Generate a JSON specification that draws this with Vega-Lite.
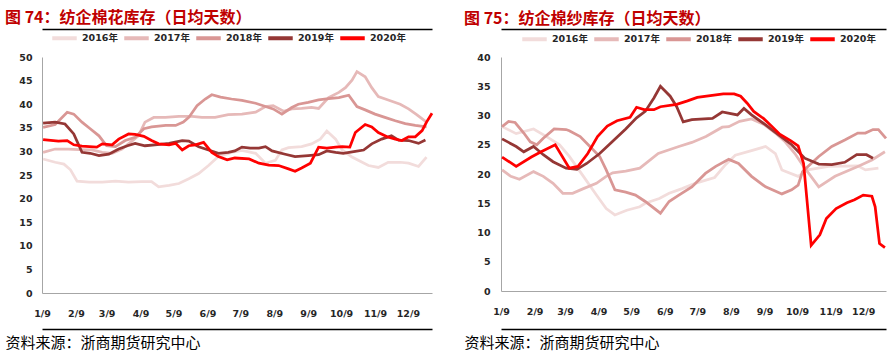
{
 "$schema": "https://vega.github.io/schema/vega-lite/v6.json",
 "background": "white",
 "padding": {"left": 5, "top": 9, "right": 2, "bottom": 5},
 "config": {
  "view": {"stroke": null},
  "axis": {"labelFont": "DejaVu Sans", "labelFontSize": 9.5, "labelFontWeight": "bold", "labelColor": "#262626", "domainColor": "#a6a6a6", "domainWidth": 1, "ticks": false, "tickSize": 0, "grid": false, "labelOverlap": false, "labelFlush": false, "tickCount": 30},
  "title": {"font": "Noto Sans CJK SC", "fontSize": 16, "fontWeight": "bold", "color": "#c00000", "anchor": "start", "offset": -2},
  "legend": {"orient": "none", "direction": "horizontal", "title": null, "symbolType": "stroke", "symbolStrokeWidth": 4, "symbolSize": 600, "labelFont": "DejaVu Sans, Noto Sans CJK SC", "labelFontSize": 9.5, "labelFontWeight": "bold", "labelColor": "#262626", "columnPadding": -2, "labelOffset": 3}
 },
 "datasets": {
  "cotton": [
   {"s":"2016年","d":10,"v":28.4},{"s":"2016年","d":21,"v":27.7},{"s":"2016年","d":29,"v":27.3},{"s":"2016年","d":35,"v":26.1},{"s":"2016年","d":41,"v":23.7},{"s":"2016年","d":52,"v":23.5},{"s":"2016年","d":64,"v":23.5},{"s":"2016年","d":76,"v":23.7},{"s":"2016年","d":88,"v":23.5},{"s":"2016年","d":100,"v":23.6},{"s":"2016年","d":109,"v":23.6},{"s":"2016年","d":115.5,"v":22.5},{"s":"2016年","d":125,"v":22.8},{"s":"2016年","d":134,"v":23.2},{"s":"2016年","d":143,"v":24.2},{"s":"2016年","d":152,"v":25.3},{"s":"2016年","d":161,"v":27.0},{"s":"2016年","d":170,"v":28.9},{"s":"2016年","d":182,"v":29.8},{"s":"2016年","d":191.5,"v":30.2},{"s":"2016年","d":204,"v":29.6},{"s":"2016年","d":213,"v":27.5},{"s":"2016年","d":222,"v":28.1},{"s":"2016年","d":228,"v":30.3},{"s":"2016年","d":234,"v":30.8},{"s":"2016年","d":246,"v":31.0},{"s":"2016年","d":255,"v":31.6},{"s":"2016年","d":263,"v":32.6},{"s":"2016年","d":269,"v":34.3},{"s":"2016年","d":277,"v":32.6},{"s":"2016年","d":283,"v":30.3},{"s":"2016年","d":292,"v":28.8},{"s":"2016年","d":299.5,"v":27.9},{"s":"2016年","d":307,"v":27.0},{"s":"2016年","d":316,"v":26.6},{"s":"2016年","d":325,"v":27.7},{"s":"2016年","d":336,"v":27.7},{"s":"2016年","d":343.6,"v":27.5},{"s":"2016年","d":352.7,"v":26.8},{"s":"2016年","d":360,"v":28.8},
   {"s":"2017年","d":10,"v":29.8},{"s":"2017年","d":21,"v":30.5},{"s":"2017年","d":33,"v":30.5},{"s":"2017年","d":42.5,"v":30.4},{"s":"2017年","d":54.6,"v":30.3},{"s":"2017年","d":64,"v":29.8},{"s":"2017年","d":73,"v":29.6},{"s":"2017年","d":82,"v":30.5},{"s":"2017年","d":89.6,"v":31.9},{"s":"2017年","d":97,"v":33.3},{"s":"2017年","d":103,"v":36.2},{"s":"2017年","d":111,"v":37.2},{"s":"2017年","d":121.6,"v":37.2},{"s":"2017年","d":134,"v":37.4},{"s":"2017年","d":146,"v":37.4},{"s":"2017年","d":155,"v":37.2},{"s":"2017年","d":167,"v":37.2},{"s":"2017年","d":179,"v":37.8},{"s":"2017年","d":191.5,"v":37.9},{"s":"2017年","d":204,"v":38.3},{"s":"2017年","d":213,"v":39.5},{"s":"2017年","d":220,"v":39.7},{"s":"2017年","d":229.5,"v":38.5},{"s":"2017年","d":237,"v":39.0},{"s":"2017年","d":246,"v":39.1},{"s":"2017年","d":255,"v":39.3},{"s":"2017年","d":261.5,"v":39.1},{"s":"2017年","d":270.6,"v":41.4},{"s":"2017年","d":280,"v":42.5},{"s":"2017年","d":286,"v":43.5},{"s":"2017年","d":292,"v":45.1},{"s":"2017年","d":296.5,"v":46.9},{"s":"2017年","d":304,"v":45.8},{"s":"2017年","d":310,"v":43.5},{"s":"2017年","d":316,"v":41.6},{"s":"2017年","d":325,"v":40.9},{"s":"2017年","d":336,"v":40.0},{"s":"2017年","d":343.6,"v":39.0},{"s":"2017年","d":351,"v":37.8},{"s":"2017年","d":360,"v":36.2},
   {"s":"2018年","d":10,"v":35.1},{"s":"2018年","d":21,"v":35.7},{"s":"2018年","d":32,"v":38.3},{"s":"2018年","d":38,"v":37.9},{"s":"2018年","d":45.5,"v":36.2},{"s":"2018年","d":53,"v":34.8},{"s":"2018年","d":61,"v":33.3},{"s":"2018年","d":68,"v":31.2},{"s":"2018年","d":76,"v":31.0},{"s":"2018年","d":85,"v":32.3},{"s":"2018年","d":94,"v":33.0},{"s":"2018年","d":102,"v":34.8},{"s":"2018年","d":109,"v":35.2},{"s":"2018年","d":122,"v":35.5},{"s":"2018年","d":131,"v":35.5},{"s":"2018年","d":138,"v":36.2},{"s":"2018年","d":143,"v":37.2},{"s":"2018年","d":150.5,"v":39.7},{"s":"2018年","d":158,"v":41.1},{"s":"2018年","d":164,"v":42.0},{"s":"2018年","d":172,"v":41.5},{"s":"2018年","d":182,"v":41.1},{"s":"2018年","d":191.5,"v":40.8},{"s":"2018年","d":204,"v":40.2},{"s":"2018年","d":213,"v":39.5},{"s":"2018年","d":220,"v":39.0},{"s":"2018年","d":228,"v":37.9},{"s":"2018年","d":237,"v":39.3},{"s":"2018年","d":243,"v":40.0},{"s":"2018年","d":252,"v":40.4},{"s":"2018年","d":261.5,"v":40.9},{"s":"2018年","d":270.6,"v":41.2},{"s":"2018年","d":280,"v":41.4},{"s":"2018年","d":289,"v":41.9},{"s":"2018年","d":296.5,"v":39.5},{"s":"2018年","d":304,"v":38.8},{"s":"2018年","d":313,"v":37.9},{"s":"2018年","d":322,"v":37.2},{"s":"2018年","d":331.5,"v":36.5},{"s":"2018年","d":340.6,"v":35.9},{"s":"2018年","d":349.7,"v":35.5},{"s":"2018年","d":360,"v":35.2},
   {"s":"2019年","d":10,"v":36.0},{"s":"2019年","d":21,"v":36.2},{"s":"2019年","d":30,"v":35.8},{"s":"2019年","d":38,"v":33.7},{"s":"2019年","d":45.5,"v":29.8},{"s":"2019年","d":53,"v":29.6},{"s":"2019年","d":61,"v":29.1},{"s":"2019年","d":70,"v":29.4},{"s":"2019年","d":79,"v":30.5},{"s":"2019年","d":87,"v":31.2},{"s":"2019年","d":94,"v":31.7},{"s":"2019年","d":103,"v":31.2},{"s":"2019年","d":112,"v":31.4},{"s":"2019年","d":125,"v":31.7},{"s":"2019年","d":137,"v":32.3},{"s":"2019年","d":143,"v":32.2},{"s":"2019年","d":152,"v":31.0},{"s":"2019年","d":161,"v":30.3},{"s":"2019年","d":170,"v":29.6},{"s":"2019年","d":179,"v":29.8},{"s":"2019年","d":185,"v":30.1},{"s":"2019年","d":191.5,"v":30.9},{"s":"2019年","d":199,"v":30.7},{"s":"2019年","d":207,"v":30.7},{"s":"2019年","d":213,"v":31.0},{"s":"2019年","d":219,"v":30.1},{"s":"2019年","d":231,"v":29.4},{"s":"2019年","d":240,"v":28.9},{"s":"2019年","d":252,"v":29.1},{"s":"2019年","d":261.5,"v":29.3},{"s":"2019年","d":269,"v":30.1},{"s":"2019年","d":277,"v":29.8},{"s":"2019年","d":284,"v":29.6},{"s":"2019年","d":295,"v":30.0},{"s":"2019年","d":302.6,"v":30.3},{"s":"2019年","d":310,"v":31.6},{"s":"2019年","d":319,"v":32.6},{"s":"2019年","d":328,"v":33.3},{"s":"2019年","d":334.5,"v":32.4},{"s":"2019年","d":343.6,"v":32.3},{"s":"2019年","d":352.7,"v":31.7},{"s":"2019年","d":359,"v":32.4},
   {"s":"2020年","d":10,"v":32.5},{"s":"2020年","d":24,"v":32.2},{"s":"2020年","d":32,"v":32.3},{"s":"2020年","d":38,"v":31.4},{"s":"2020年","d":45.5,"v":31.1},{"s":"2020年","d":59,"v":30.9},{"s":"2020年","d":64,"v":31.6},{"s":"2020年","d":73,"v":31.4},{"s":"2020年","d":79,"v":32.6},{"s":"2020年","d":88,"v":33.7},{"s":"2020年","d":94,"v":33.6},{"s":"2020年","d":102,"v":33.2},{"s":"2020年","d":109,"v":32.3},{"s":"2020年","d":115.5,"v":31.6},{"s":"2020年","d":125,"v":31.4},{"s":"2020年","d":131,"v":31.7},{"s":"2020年","d":137,"v":30.3},{"s":"2020年","d":143,"v":31.2},{"s":"2020年","d":149,"v":31.4},{"s":"2020年","d":156.5,"v":31.9},{"s":"2020年","d":164,"v":29.8},{"s":"2020年","d":170,"v":28.9},{"s":"2020年","d":178,"v":28.2},{"s":"2020年","d":185,"v":28.6},{"s":"2020年","d":198,"v":28.4},{"s":"2020年","d":207,"v":27.5},{"s":"2020年","d":216,"v":27.1},{"s":"2020年","d":225,"v":27.0},{"s":"2020年","d":234,"v":26.3},{"s":"2020年","d":240,"v":25.8},{"s":"2020年","d":246,"v":26.5},{"s":"2020年","d":254,"v":27.5},{"s":"2020年","d":261.5,"v":30.9},{"s":"2020年","d":269,"v":30.7},{"s":"2020年","d":277,"v":30.9},{"s":"2020年","d":283,"v":31.0},{"s":"2020年","d":290,"v":30.9},{"s":"2020年","d":295,"v":34.0},{"s":"2020年","d":304,"v":35.7},{"s":"2020年","d":310,"v":35.2},{"s":"2020年","d":316,"v":34.0},{"s":"2020年","d":324,"v":33.1},{"s":"2020年","d":331.5,"v":32.6},{"s":"2020年","d":337.5,"v":32.3},{"s":"2020年","d":343.6,"v":33.1},{"s":"2020年","d":349.7,"v":33.1},{"s":"2020年","d":356,"v":34.4},{"s":"2020年","d":360,"v":36.2},{"s":"2020年","d":365,"v":38.1}
  ],
  "yarn": [
   {"s":"2016年","d":10,"v":28.1},{"s":"2016年","d":23,"v":26.9},{"s":"2016年","d":39,"v":27.7},{"s":"2016年","d":51,"v":26.4},{"s":"2016年","d":63,"v":25.0},{"s":"2016年","d":72,"v":23.0},{"s":"2016年","d":85,"v":19.6},{"s":"2016年","d":97,"v":16.4},{"s":"2016年","d":106,"v":14.1},{"s":"2016年","d":114,"v":13.0},{"s":"2016年","d":125,"v":13.8},{"s":"2016年","d":137,"v":14.4},{"s":"2016年","d":142,"v":15.0},{"s":"2016年","d":155,"v":15.8},{"s":"2016年","d":164,"v":16.7},{"s":"2016年","d":176,"v":17.5},{"s":"2016年","d":188,"v":18.4},{"s":"2016年","d":206,"v":19.4},{"s":"2016年","d":216,"v":21.6},{"s":"2016年","d":225,"v":23.2},{"s":"2016年","d":240,"v":24.0},{"s":"2016年","d":253,"v":24.7},{"s":"2016年","d":262,"v":23.5},{"s":"2016年","d":268,"v":20.7},{"s":"2016年","d":283,"v":19.6},{"s":"2016年","d":292,"v":20.7},{"s":"2016年","d":311,"v":21.3},{"s":"2016年","d":338,"v":21.4},{"s":"2016年","d":345,"v":20.7},{"s":"2016年","d":357,"v":21.0},
   {"s":"2017年","d":10,"v":20.7},{"s":"2017年","d":18,"v":19.6},{"s":"2017年","d":26,"v":19.1},{"s":"2017年","d":39,"v":20.4},{"s":"2017年","d":48,"v":19.6},{"s":"2017年","d":57,"v":18.4},{"s":"2017年","d":66,"v":16.7},{"s":"2017年","d":75,"v":16.7},{"s":"2017年","d":85,"v":17.5},{"s":"2017年","d":97,"v":18.4},{"s":"2017年","d":106,"v":19.6},{"s":"2017年","d":112,"v":20.2},{"s":"2017年","d":124,"v":20.5},{"s":"2017年","d":137,"v":21.0},{"s":"2017年","d":154,"v":23.5},{"s":"2017年","d":173,"v":24.7},{"s":"2017年","d":185,"v":25.4},{"s":"2017年","d":198,"v":26.4},{"s":"2017年","d":213,"v":28.0},{"s":"2017年","d":219,"v":28.1},{"s":"2017年","d":229,"v":29.0},{"s":"2017年","d":240,"v":29.4},{"s":"2017年","d":252,"v":28.4},{"s":"2017年","d":262,"v":27.0},{"s":"2017年","d":271,"v":25.5},{"s":"2017年","d":280,"v":23.5},{"s":"2017年","d":288,"v":21.3},{"s":"2017年","d":302,"v":17.8},{"s":"2017年","d":317,"v":19.6},{"s":"2017年","d":338,"v":21.3},{"s":"2017年","d":351,"v":22.4},{"s":"2017年","d":363,"v":23.8},
   {"s":"2018年","d":10,"v":28.1},{"s":"2018年","d":16,"v":29.0},{"s":"2018年","d":22,"v":28.8},{"s":"2018年","d":30,"v":27.0},{"s":"2018年","d":36,"v":25.5},{"s":"2018年","d":42,"v":25.0},{"s":"2018年","d":48,"v":26.1},{"s":"2018年","d":58,"v":27.7},{"s":"2018年","d":69,"v":27.6},{"s":"2018年","d":72,"v":27.4},{"s":"2018年","d":82,"v":26.4},{"s":"2018年","d":91,"v":24.7},{"s":"2018年","d":100,"v":23.0},{"s":"2018年","d":106,"v":20.7},{"s":"2018年","d":114,"v":17.3},{"s":"2018年","d":124,"v":16.9},{"s":"2018年","d":133,"v":16.4},{"s":"2018年","d":142,"v":15.3},{"s":"2018年","d":156,"v":13.3},{"s":"2018年","d":164,"v":15.3},{"s":"2018年","d":173,"v":16.4},{"s":"2018年","d":185,"v":17.8},{"s":"2018年","d":197.5,"v":20.1},{"s":"2018年","d":207,"v":21.3},{"s":"2018年","d":219,"v":22.5},{"s":"2018年","d":228,"v":21.8},{"s":"2018年","d":240,"v":19.6},{"s":"2018年","d":253,"v":17.8},{"s":"2018年","d":268,"v":16.6},{"s":"2018年","d":277,"v":17.3},{"s":"2018年","d":283,"v":18.1},{"s":"2018年","d":287,"v":20.4},{"s":"2018年","d":292,"v":21.3},{"s":"2018年","d":302,"v":23.0},{"s":"2018年","d":314,"v":24.7},{"s":"2018年","d":326,"v":25.8},{"s":"2018年","d":338,"v":27.0},{"s":"2018年","d":345,"v":27.0},{"s":"2018年","d":352,"v":27.6},{"s":"2018年","d":357,"v":27.6},{"s":"2018年","d":364,"v":26.1},
   {"s":"2019年","d":10,"v":26.0},{"s":"2019年","d":16,"v":25.4},{"s":"2019年","d":23,"v":24.7},{"s":"2019年","d":30,"v":23.8},{"s":"2019年","d":39,"v":24.7},{"s":"2019年","d":48,"v":23.3},{"s":"2019年","d":57,"v":22.1},{"s":"2019年","d":69,"v":21.0},{"s":"2019年","d":79,"v":20.8},{"s":"2019年","d":88,"v":21.8},{"s":"2019年","d":100,"v":23.5},{"s":"2019年","d":112,"v":25.6},{"s":"2019年","d":124,"v":27.7},{"s":"2019年","d":134,"v":29.6},{"s":"2019年","d":142,"v":30.7},{"s":"2019年","d":150,"v":33.0},{"s":"2019年","d":156,"v":35.0},{"s":"2019年","d":165,"v":33.3},{"s":"2019年","d":171,"v":31.5},{"s":"2019年","d":177,"v":28.9},{"s":"2019年","d":185,"v":29.3},{"s":"2019年","d":204,"v":29.5},{"s":"2019年","d":213,"v":30.6},{"s":"2019年","d":227,"v":30.1},{"s":"2019年","d":233,"v":31.2},{"s":"2019年","d":240,"v":30.1},{"s":"2019年","d":253,"v":28.4},{"s":"2019年","d":265,"v":26.7},{"s":"2019年","d":277,"v":25.0},{"s":"2019年","d":289,"v":22.7},{"s":"2019年","d":302,"v":21.7},{"s":"2019年","d":314,"v":21.6},{"s":"2019年","d":326,"v":22.0},{"s":"2019年","d":337,"v":23.3},{"s":"2019年","d":346,"v":23.3},{"s":"2019年","d":352,"v":22.7},
   {"s":"2020年","d":10,"v":22.9},{"s":"2020年","d":23,"v":21.3},{"s":"2020年","d":37,"v":22.9},{"s":"2020年","d":46,"v":23.8},{"s":"2020年","d":59,"v":25.0},{"s":"2020年","d":72,"v":21.0},{"s":"2020年","d":80,"v":21.3},{"s":"2020年","d":89,"v":23.5},{"s":"2020年","d":98,"v":26.4},{"s":"2020年","d":107,"v":28.2},{"s":"2020年","d":116,"v":29.1},{"s":"2020年","d":128,"v":29.7},{"s":"2020年","d":134,"v":31.4},{"s":"2020年","d":141,"v":31.0},{"s":"2020年","d":150,"v":31.0},{"s":"2020年","d":156,"v":31.5},{"s":"2020年","d":171,"v":31.9},{"s":"2020年","d":181,"v":32.5},{"s":"2020年","d":190,"v":33.1},{"s":"2020年","d":202,"v":33.4},{"s":"2020年","d":214,"v":33.7},{"s":"2020年","d":224,"v":33.7},{"s":"2020年","d":230,"v":33.3},{"s":"2020年","d":236,"v":32.1},{"s":"2020年","d":242,"v":30.7},{"s":"2020年","d":251,"v":29.5},{"s":"2020年","d":259,"v":28.1},{"s":"2020年","d":266,"v":26.8},{"s":"2020年","d":276,"v":25.7},{"s":"2020年","d":283,"v":24.8},{"s":"2020年","d":288,"v":21.8},{"s":"2020年","d":295,"v":7.8},{"s":"2020年","d":303,"v":9.6},{"s":"2020年","d":309,"v":12.4},{"s":"2020年","d":318,"v":14.1},{"s":"2020年","d":328,"v":15.1},{"s":"2020年","d":335,"v":15.6},{"s":"2020年","d":343,"v":16.4},{"s":"2020年","d":351,"v":16.2},{"s":"2020年","d":354,"v":14.4},{"s":"2020年","d":358,"v":8.1},{"s":"2020年","d":363,"v":7.4}
  ]
 },
 "spacing": 26,
 "resolve": {"scale": {"x": "independent", "y": "independent", "color": "independent"}, "legend": {"color": "independent"}},
 "hconcat": [
  {
   "width": 390, "height": 236,
   "title": {"text": "图 74：纺企棉花库存（日均天数）"},
   "data": {"name": "cotton"},
   "resolve": {"axis": {"x": "independent"}},
   "layer": [
    {
     "mark": {"type": "line", "strokeWidth": 2.75},
     "encoding": {
      "x": {"field": "d", "type": "quantitative", "scale": {"domain": [9, 365], "nice": false, "zero": false},
        "axis": {"orient": "bottom", "values": [9, 40, 68, 99, 129, 160, 190, 221, 252, 282, 313, 343], "labelExpr": "timeFormat(datetime(2021, 0, datum.value), '%-m/%-d')", "tickCount": 30, "labelOverlap": false, "labelFlush": false, "labelPadding": 15, "title": "资料来源：浙商期货研究中心", "titleAnchor": "start", "titleAlign": "left", "titleX": -37, "titleY": 49, "titleBaseline": "middle", "titleFont": "Noto Sans CJK SC", "titleFontSize": 15, "titleFontWeight": "normal", "titleColor": "#000000"}},
      "y": {"field": "v", "type": "quantitative", "scale": {"domain": [0, 50], "nice": false},
        "axis": {"values": [0, 5, 10, 15, 20, 25, 30, 35, 40, 45, 50], "tickCount": 30, "labelPadding": 10, "title": null}},
      "color": {"field": "s", "type": "nominal",
        "scale": {"domain": ["2016年", "2017年", "2018年", "2019年", "2020年"], "range": ["#f2dcdb", "#e6b9b8", "#d99694", "#953735", "#ff0000"]},
        "legend": {"legendX": 8, "legendY": -33.5}}
     }
    },
    {
     "mark": {"type": "line", "opacity": 0},
     "encoding": {
      "x": {"field": "d", "type": "quantitative", "scale": {"domain": [9, 365], "nice": false, "zero": false},
        "axis": {"orient": "top", "offset": 28, "domainColor": "#000000", "domainWidth": 1.5, "labels": false, "ticks": false, "title": null}},
      "y": {"field": "v", "type": "quantitative", "scale": {"domain": [0, 50], "nice": false},
        "axis": {"values": [0, 5, 10, 15, 20, 25, 30, 35, 40, 45, 50], "tickCount": 30, "labelPadding": 10, "title": null}}
     }
    },
    {
     "mark": {"type": "line", "opacity": 0},
     "encoding": {
      "x": {"field": "d", "type": "quantitative", "scale": {"domain": [9, 365], "nice": false, "zero": false},
        "axis": {"orient": "bottom", "offset": 36, "domainColor": "#000000", "domainWidth": 1.5, "labels": false, "ticks": false, "title": null}},
      "y": {"field": "v", "type": "quantitative", "scale": {"domain": [0, 50], "nice": false},
        "axis": {"values": [0, 5, 10, 15, 20, 25, 30, 35, 40, 45, 50], "tickCount": 30, "labelPadding": 10, "title": null}}
     }
    }
   ]
  },
  {
   "width": 385, "height": 234,
   "title": {"text": "图 75：纺企棉纱库存（日均天数）"},
   "data": {"name": "yarn"},
   "resolve": {"axis": {"x": "independent"}},
   "layer": [
    {
     "mark": {"type": "line", "strokeWidth": 2.75},
     "encoding": {
      "x": {"field": "d", "type": "quantitative", "scale": {"domain": [9, 364], "nice": false, "zero": false},
        "axis": {"orient": "bottom", "values": [9, 40, 68, 99, 129, 160, 190, 221, 252, 282, 313, 343], "labelExpr": "timeFormat(datetime(2021, 0, datum.value), '%-m/%-d')", "tickCount": 30, "labelOverlap": false, "labelFlush": false, "labelPadding": 15, "title": "资料来源：浙商期货研究中心", "titleAnchor": "start", "titleAlign": "left", "titleX": -37, "titleY": 51, "titleBaseline": "middle", "titleFont": "Noto Sans CJK SC", "titleFontSize": 15, "titleFontWeight": "normal", "titleColor": "#000000"}},
      "y": {"field": "v", "type": "quantitative", "scale": {"domain": [0, 40], "nice": false},
        "axis": {"values": [0, 5, 10, 15, 20, 25, 30, 35, 40], "tickCount": 30, "labelPadding": 11, "title": null}},
      "color": {"field": "s", "type": "nominal",
        "scale": {"domain": ["2016年", "2017年", "2018年", "2019年", "2020年"], "range": ["#f2dcdb", "#e6b9b8", "#d99694", "#953735", "#ff0000"]},
        "legend": {"legendX": 19, "legendY": -32.5}}
     }
    },
    {
     "mark": {"type": "line", "opacity": 0},
     "encoding": {
      "x": {"field": "d", "type": "quantitative", "scale": {"domain": [9, 364], "nice": false, "zero": false},
        "axis": {"orient": "top", "offset": 28, "domainColor": "#000000", "domainWidth": 1.5, "labels": false, "ticks": false, "title": null}},
      "y": {"field": "v", "type": "quantitative", "scale": {"domain": [0, 40], "nice": false},
        "axis": {"values": [0, 5, 10, 15, 20, 25, 30, 35, 40], "tickCount": 30, "labelPadding": 11, "title": null}}
     }
    },
    {
     "mark": {"type": "line", "opacity": 0},
     "encoding": {
      "x": {"field": "d", "type": "quantitative", "scale": {"domain": [9, 364], "nice": false, "zero": false},
        "axis": {"orient": "bottom", "offset": 38, "domainColor": "#000000", "domainWidth": 1.5, "labels": false, "ticks": false, "title": null}},
      "y": {"field": "v", "type": "quantitative", "scale": {"domain": [0, 40], "nice": false},
        "axis": {"values": [0, 5, 10, 15, 20, 25, 30, 35, 40], "tickCount": 30, "labelPadding": 11, "title": null}}
     }
    }
   ]
  }
 ]
}
